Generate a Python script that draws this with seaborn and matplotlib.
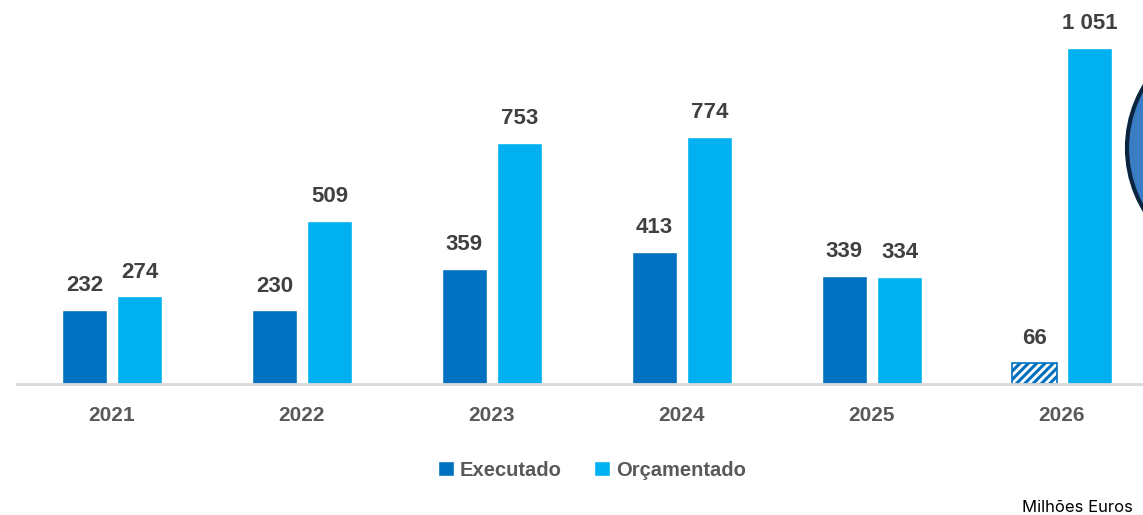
import pandas as pd
import matplotlib
matplotlib.use("Agg")
import matplotlib.pyplot as plt
from matplotlib.patches import Ellipse, Patch
import seaborn as sns

# Data (Milhões Euros)
years = ["2021", "2022", "2023", "2024", "2025", "2026"]
executado = [232, 230, 359, 413, 339, 66]
orcamentado = [274, 509, 753, 774, 334, 1051]
series = ["Executado", "Orçamentado"]

df = pd.DataFrame({
    "ano": years * 2,
    "serie": [series[0]] * len(years) + [series[1]] * len(years),
    "valor": executado + orcamentado,
})

sns.set_theme(style="white")
plt.rcParams["font.family"] = ["Liberation Sans", "DejaVu Sans"]
plt.rcParams["hatch.linewidth"] = 2.2

DARK = "#0070C0"
LIGHT = "#00B0F0"

fig = plt.figure(figsize=(11.43, 5.15), dpi=100)
ax = fig.add_axes([17 / 1143, 1 - 384 / 515, 1 - 17 / 1143, 384 / 515])

sns.barplot(data=df, x="ano", y="valor", hue="serie", order=years,
            hue_order=series, palette=[DARK, LIGHT], width=0.58, gap=0.18,
            saturation=1, legend=False, ax=ax)

ax.set_xlim(-0.5, (1143 - 112) / 190)
ax.set_ylim(0, 1201)

# hatched bar for 2026 Executado (partial year)
n = len(years)
for i, bar in enumerate(ax.patches[:2 * n]):
    if i < n:
        val = executado[i]
    else:
        val = orcamentado[i - n]
    if i == n - 1:
        bar.set_facecolor("white")
        bar.set_edgecolor(DARK)
        bar.set_hatch("////")
        bar.set_linewidth(1.2)
    txt = f"{val:,}".replace(",", " ")
    ax.annotate(txt, (bar.get_x() + bar.get_width() / 2, bar.get_height()),
                xytext=(0, 10), textcoords="offset points", ha="center",
                va="bottom", fontsize=16, fontweight="bold", color="#404040")

for s in ["top", "right", "left"]:
    ax.spines[s].set_visible(False)
ax.spines["bottom"].set_color("#D9D9D9")
ax.spines["bottom"].set_linewidth(2)
ax.set_yticks([])
ax.set_xlabel("")
ax.set_ylabel("")
ax.tick_params(axis="x", length=0, pad=16, labelsize=15, labelcolor="#595959")
for lbl in ax.get_xticklabels():
    lbl.set_fontweight("bold")

handles = [Patch(facecolor=DARK, label=series[0]),
           Patch(facecolor=LIGHT, label=series[1])]
fig.legend(handles=handles, loc="center", bbox_to_anchor=(592 / 1143, 1 - 470 / 515),
           ncol=2, frameon=False, handlelength=0.8, handleheight=0.8,
           handletextpad=0.3, columnspacing=1.6,
           prop={"weight": "bold", "size": 14.5})
for t in fig.legends[0].get_texts():
    t.set_color("#595959")

fig.text(1133 / 1143, 1 - 507 / 515, "Milhões Euros", ha="right", va="center",
         fontsize=12, color="black", family=["Inter", "DejaVu Sans"])

# partial circle cut off at the right edge
circ = Ellipse((1247.5 / 1143, 1 - 148 / 515), width=241 / 1143, height=241 / 515,
               transform=fig.transFigure, facecolor="#3B7DC4",
               edgecolor="#0A2540", linewidth=3)
fig.add_artist(circ)

fig.savefig("out.png", dpi=100)
